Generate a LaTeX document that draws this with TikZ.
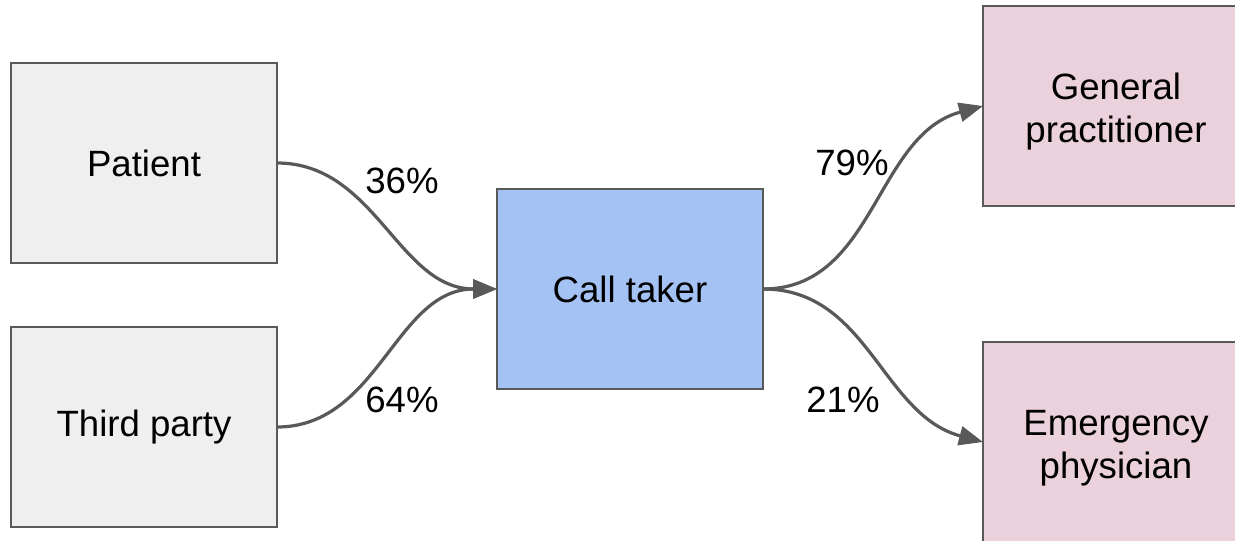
\documentclass[tikz,border=0pt]{standalone}
\usepackage{fontspec}
\setmainfont{Liberation Sans}
\usetikzlibrary{arrows.meta}
\definecolor{boxgray}{HTML}{EFEFEF}
\definecolor{boxblue}{HTML}{A4C2F4}
\definecolor{boxpink}{HTML}{EAD1DC}
\definecolor{edgegray}{HTML}{595959}
\newcommand{\firstline}{\rule{0pt}{18.9pt}}
\tikzset{
  boxline/.style={draw=edgegray, line width=1pt},
  boxshape/.style={minimum width=133pt, minimum height=100pt,
    inner sep=0pt, outer sep=0pt, align=center,
    font=\fontsize{18.3}{21.7}\selectfont},
  source/.style={boxshape, boxline, fill=boxgray},
  hub/.style={boxshape, boxline, fill=boxblue},
  target/.style={boxshape, fill=boxpink},
  flow/.style={draw=edgegray, line width=1.6pt, -{Triangle[length=12pt,width=9.5pt]}},
  share/.style={inner sep=0pt, font=\fontsize{18.3}{21.7}\selectfont}
}
\begin{document}
\begin{tikzpicture}[x=0.5pt, y=-0.5pt]
  \useasboundingbox (0,0) rectangle (1235,540);
  \clip (0,0) rectangle (1235,540);
  \fill[white] (0,0) rectangle (1235,540);

  % boxes
  \node[source] (patient) at (144,163) {Patient};
  \node[source] (third)   at (144,427) {Third party};
  \node[hub]    (caller)  at (630,289) {Call taker};
  \node[target] (gp)      at (1116,106) {\firstline General\\practitioner};
  \node[target] (ep)      at (1116,442) {\firstline Emergency\\physician};

  % the right-hand boxes run past the page edge: outline only three sides
  \draw[boxline] (gp.north east) -- (gp.north west) -- (gp.south west) -- (gp.south east);
  \draw[boxline] (ep.north east) -- (ep.north west) -- (ep.south west) -- (ep.south east);

  % flows
  \draw[flow] (patient.east) to[out=0, in=180] (caller.west);
  \draw[flow] (third.east)   to[out=0, in=180] (caller.west);
  \draw[flow] (caller.east)  to[out=0, in=195] (gp.west);
  \draw[flow] (caller.east)  to[out=0, in=165] (ep.west);

  % shares
  \node[share] (s36) at (402,181) {36\%};
  \node[share] (s64) at (402,400) {64\%};
  \node[share] (s79) at (852,163) {79\%};
  \node[share] (s21) at (843,400) {21\%};
\end{tikzpicture}
\end{document}
